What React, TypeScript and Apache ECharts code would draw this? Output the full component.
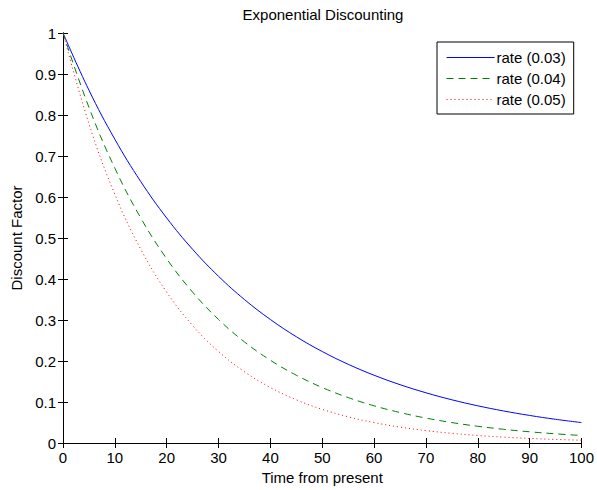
import React, { useEffect, useRef } from "react";
import * as echarts from "echarts";

const times = [0, 5, 10, 15, 20, 25, 30, 35, 40, 45, 50, 55, 60, 65, 70, 75, 80, 85, 90, 95, 100];
const rate003 = [1, 0.8607, 0.7408, 0.6376, 0.5488, 0.4724, 0.4066, 0.3499, 0.3012, 0.2592, 0.2231, 0.192, 0.1653, 0.1423, 0.1225, 0.1054, 0.0907, 0.0781, 0.0672, 0.0578, 0.0498];
const rate004 = [1, 0.8187, 0.6703, 0.5488, 0.4493, 0.3679, 0.3012, 0.2466, 0.2019, 0.1653, 0.1353, 0.1108, 0.0907, 0.0743, 0.0608, 0.0498, 0.0408, 0.0334, 0.0273, 0.0224, 0.0183];
const rate005 = [1, 0.7788, 0.6065, 0.4724, 0.3679, 0.2865, 0.2231, 0.1738, 0.1353, 0.1054, 0.0821, 0.0639, 0.0498, 0.0388, 0.0302, 0.0235, 0.0183, 0.0143, 0.0111, 0.0087, 0.0067];
const seriesNames = ["rate (0.03)", "rate (0.04)", "rate (0.05)"];
const seriesColors = ["#0000ff", "#008000", "#ff0000"];
const seriesDash: any[] = ["solid", [7, 5], [1, 3]];

const FONT = "Liberation Sans, Arial, sans-serif";
const FS = 15;

export default function App() {
  const ref = useRef<HTMLDivElement>(null);
  useEffect(() => {
    if (!ref.current) return;
    const chart = echarts.init(ref.current, null, { renderer: "svg" });
    const pair = (ys: number[]) => times.map((t, i) => [t, ys[i]]);
    const values = [rate003, rate004, rate005];
    const axisCommon = {
      axisLine: { show: true, lineStyle: { color: "#000", width: 1 } },
      axisTick: { show: true, inside: true, length: 5, lineStyle: { color: "#000" } },
      splitLine: { show: false },
    };
    chart.setOption({
      animation: false,
      backgroundColor: "#fff",
      textStyle: { fontFamily: FONT },
      title: {
        text: "Exponential Discounting",
        left: 323,
        textAlign: "center",
        top: 7,
        padding: 0,
        textStyle: { fontFamily: FONT, fontSize: FS, fontWeight: "normal", color: "#000" },
      },
      legend: {
        orient: "vertical",
        left: 437,
        top: 42,
        itemWidth: 48,
        itemHeight: 14,
        itemGap: 6,
        padding: [8, 8, 7, 9],
        borderColor: "#000",
        borderWidth: 1,
        backgroundColor: "#fff",
        itemStyle: { opacity: 0 },
        textStyle: { fontFamily: FONT, fontSize: FS, color: "#000", lineHeight: 14, padding: [0, 0, 0, -3] },
        data: seriesNames.map((n, i) => ({
          name: n,
          itemStyle: { opacity: 0 },
          lineStyle: { color: seriesColors[i], width: 1, type: seriesDash[i], opacity: 1 },
        })),
      },
      grid: { left: 63, right: 13, top: 33, bottom: 47, containLabel: false },
      xAxis: [
        {
          type: "value",
          min: 0,
          max: 100,
          interval: 10,
          position: "bottom",
          name: "Time from present",
          nameLocation: "middle",
          nameGap: 26,
          nameTextStyle: { fontFamily: FONT, fontSize: FS, color: "#000" },
          axisLabel: { fontFamily: FONT, fontSize: FS, color: "#000", margin: 7 },
          ...axisCommon,
        },
        {
          type: "value",
          min: 0,
          max: 100,
          interval: 10,
          position: "top",
          axisLabel: { show: false },
          ...axisCommon,
        },
      ],
      yAxis: [
        {
          type: "value",
          min: 0,
          max: 1,
          interval: 0.1,
          position: "left",
          name: "Discount Factor",
          nameLocation: "middle",
          nameGap: 38,
          nameTextStyle: { fontFamily: FONT, fontSize: FS, color: "#000" },
          axisLabel: { fontFamily: FONT, fontSize: FS, color: "#000", margin: 7 },
          ...axisCommon,
        },
        {
          type: "value",
          min: 0,
          max: 1,
          interval: 0.1,
          position: "right",
          axisLabel: { show: false },
          ...axisCommon,
        },
      ],
      series: seriesNames.map((n, i) => ({
        name: n,
        type: "line",
        data: pair(values[i]),
        smooth: 0.4,
        showSymbol: false,
        symbol: "none",
        lineStyle: { color: seriesColors[i], width: 1, type: seriesDash[i] },
        itemStyle: { color: seriesColors[i] },
      })),
    });
    return () => chart.dispose();
  }, []);
  return <div ref={ref} style={{ width: 597, height: 490, position: "absolute", left: 0, top: 0 }} />;
}
